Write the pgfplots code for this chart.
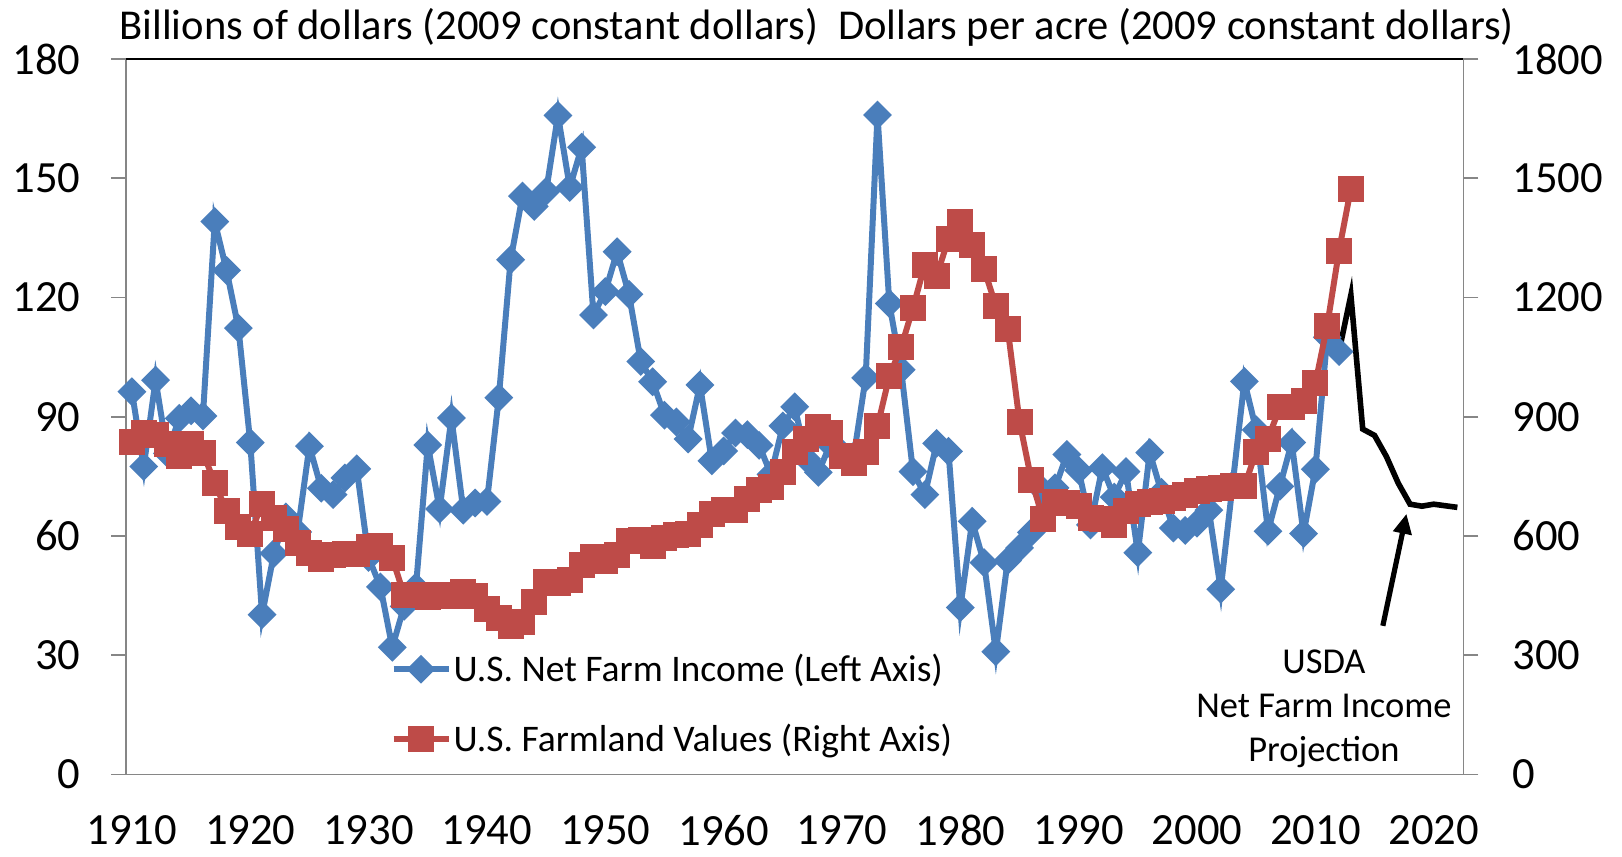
\documentclass[border=0pt]{standalone}
\usepackage{pgfplots}
\pgfplotsset{compat=1.18}
\usepackage{pgfplotstable}
\usepackage{fontspec}
\setmainfont{Carlito}
\usetikzlibrary{arrows.meta}
\definecolor{incblue}{HTML}{4A7EBB}
\definecolor{valred}{HTML}{BE4B48}
\definecolor{axgray}{HTML}{868686}

\pgfplotstableread{
year income
1910 96.3
1911 77.5
1912 99.2
1913 80.8
1914 89.6
1915 91.5
1916 90.2
1917 139.1
1918 126.8
1919 112.3
1920 83.5
1921 40.2
1922 55.6
1923 64.8
1924 61.0
1925 82.6
1926 72.0
1927 70.4
1928 74.6
1929 76.9
1930 54.6
1931 47.2
1932 32.0
1933 42.3
1934 47.2
1935 82.9
1936 66.8
1937 89.7
1938 66.5
1939 68.3
1940 68.7
1941 94.8
1942 129.5
1943 145.5
1944 142.9
1945 146.7
1946 165.8
1947 147.7
1948 157.8
1949 115.6
1950 121.5
1951 131.5
1952 120.8
1953 103.9
1954 98.8
1955 90.4
1956 88.7
1957 84.4
1958 98.0
1959 78.9
1960 81.4
1961 85.9
1962 85.5
1963 82.8
1964 75.5
1965 87.7
1966 92.5
1967 79.4
1968 76.0
1969 83.0
1970 80.8
1971 80.2
1972 99.8
1973 165.9
1974 118.5
1975 101.8
1976 76.2
1977 70.4
1978 83.3
1979 81.3
1980 42.0
1981 63.7
1982 53.3
1983 30.9
1984 53.8
1985 57.0
1986 60.9
1987 71.4
1988 72.1
1989 80.5
1990 76.5
1991 62.8
1992 77.2
1993 69.8
1994 76.2
1995 55.8
1996 81.0
1997 71.0
1998 62.0
1999 61.4
2000 63.2
2001 66.5
2002 46.6
2003 72.8
2004 98.9
2005 86.7
2006 61.2
2007 72.5
2008 83.5
2009 60.6
2010 76.8
2011 110.0
2012 106.4
}\incometable

\pgfplotstableread{
year value
1910 836
1911 858
1912 855
1913 831
1914 802
1915 832
1916 810
1917 733
1918 663
1919 623
1920 605
1921 681
1922 646
1923 618
1924 582
1925 558
1926 542
1927 552
1928 555
1929 555
1930 572
1931 576
1932 544
1933 452
1934 451
1935 446
1936 452
1937 450
1938 460
1939 450
1940 416
1941 394
1942 374
1943 384
1944 434
1945 484
1946 482
1947 490
1948 528
1949 548
1950 537
1951 552
1952 588
1953 590
1954 576
1955 595
1956 603
1957 605
1958 627
1959 656
1960 665
1961 665
1962 694
1963 715
1964 723
1965 762
1966 811
1967 843
1968 875
1969 860
1970 801
1971 784
1972 811
1973 876
1974 1002
1975 1075
1976 1174
1977 1283
1978 1254
1979 1348
1980 1390
1981 1331
1982 1272
1983 1179
1984 1122
1985 888
1986 741
1987 643
1988 686
1989 682
1990 675
1991 646
1992 643
1993 628
1994 662
1995 680
1996 686
1997 687
1998 695
1999 704
2000 712
2001 719
2002 722
2003 726
2004 725
2005 812
2006 845
2007 924
2008 925
2009 939
2010 984
2011 1129
2012 1318
2013 1474
}\valuetable

\pgfplotstableread{
year proj
2012 106.4
2013 120.6
2014 86.9
2015 85.3
2016 80.0
2017 73.3
2018 68.0
2019 67.5
2020 68.0
2021 67.6
2022 67.2
}\projtable

\begin{document}
\begin{tikzpicture}
\pgfplotsset{
  base/.style={
    scale only axis, width=668.65bp, height=357.75bp,
    xmin=1909.5, xmax=2022.5,
    clip=false,
    tick align=outside,
    major tick length=7.5bp,
    minor tick length=7.5bp,
    scaled ticks=false,
    /pgf/number format/assume math mode=true,
    /pgf/number format/1000 sep={},
    tick label style={font=\fontsize{22.4}{26}\selectfont, inner sep=0pt},
  },
}
\begin{axis}[base,
  ymin=0, ymax=180, ytick={0,30,...,180},
  axis x line*=bottom, axis y line*=left,
  axis line style={axgray, line width=0.8bp},
  ytick style={axgray, line width=0.8bp},
  xtick={1910,1920,...,2020},
  xtick style={draw=none},
  minor xtick={1909.5,1914.5,...,2019.5},
  minor x tick style={axgray, line width=0.8bp},
  xticklabel style={anchor=north, yshift=-12.8bp},
  yticklabel style={anchor=east, xshift=-15.15bp},
]
\addplot[incblue, line width=3bp, mark=square*, mark size=3.6bp,
  mark options={rotate=45, solid}] table[x=year, y=income] {\incometable};
\addplot[black, line width=2.8bp, no marks] table[x=year, y=proj] {\projtable};
\draw[black, line width=2.6bp, -{Triangle[width=9bp,length=10bp]}]
  (axis cs:2015.7,37.4) -- (axis cs:2017.7,65.6);
\node[align=center, inner sep=0pt, font=\fontsize{18.3}{22.25}\selectfont]
  at (rel axis cs:0.8958,0.0917) {USDA\\Net Farm Income\\Projection};
\node[anchor=base, inner sep=0pt, font=\fontsize{21.35}{25}\selectfont]
  at ([xshift=171.5bp, yshift=9.85bp]rel axis cs:0,1) {Billions of dollars (2009 constant dollars)};
\node[anchor=base, inner sep=0pt, font=\fontsize{21.35}{25}\selectfont]
  at ([xshift=525bp, yshift=9.85bp]rel axis cs:0,1) {Dollars per acre (2009 constant dollars)};
\draw[black, line width=0.9bp] (rel axis cs:0,1) -- (rel axis cs:1,1);
\end{axis}
\begin{axis}[base,
  ymin=0, ymax=1800, ytick={0,300,...,1800},
  axis y line*=right, axis x line=none, xtick=\empty,
  axis line style={axgray, line width=0.8bp},
  ytick style={axgray, line width=0.8bp},
  yticklabel style={anchor=west, xshift=16.85bp},
  legend style={at={(rel axis cs:0.1975,0.0985)}, anchor=west, draw=none, fill=none,
    font=\fontsize{18.85}{22}\selectfont, inner sep=0pt, row sep=17.6bp,
    nodes={inner sep=1bp}},
  legend cell align=left,
  legend image code/.code={\draw[mark repeat=2, mark phase=2, #1]
    plot coordinates {(0bp,0bp) (13.75bp,0bp) (27.5bp,0bp)};},
]
\addlegendimage{incblue, line width=3bp, mark=square*, mark size=3.6bp, mark options={rotate=45, solid}}
\addlegendentry{U.S. Net Farm Income (Left Axis)}
\addplot[valred, line width=3bp, mark=square*, mark size=5bp, mark options={solid}]
  table[x=year, y=value] {\valuetable};
\addlegendentry{U.S. Farmland Values (Right Axis)}
\end{axis}
\pgfresetboundingbox
\useasboundingbox (-63bp,-41bp) rectangle (748bp,387.25bp);
\end{tikzpicture}
\end{document}
